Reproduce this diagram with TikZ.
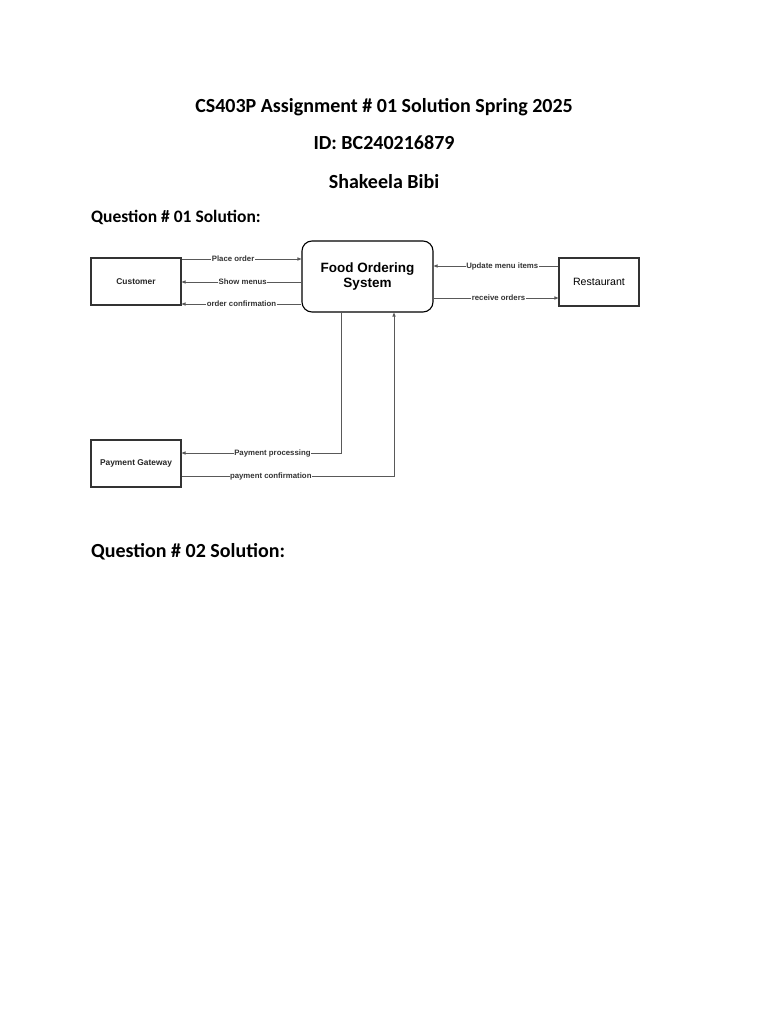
\documentclass[tikz,border=0pt]{standalone}
\usepackage{fontspec}
\setmainfont{Carlito}
\newfontfamily\diag{Liberation Sans}
\usetikzlibrary{arrows.meta}
\begin{document}
\begin{tikzpicture}[x=1pt,y=-1pt,
  title/.style={font=\bfseries\fontsize{20}{24}\selectfont, anchor=base, inner sep=0pt},
  qhead/.style={font=\bfseries\fontsize{17.5}{21}\selectfont, anchor=base west, inner sep=0pt},
  entity/.style={draw=black!80, line width=1.1pt, inner sep=0pt, text=black!85, font=\diag\bfseries\fontsize{8.4}{10}\selectfont},
  proc/.style={draw=black, line width=1.1pt, rounded corners=10pt, inner sep=0pt, align=center,
     font=\diag\bfseries\fontsize{13.5}{15.5}\selectfont},
  flow/.style={draw=black!65, line width=0.7pt, -{Triangle[length=4pt,width=3.2pt]}},
  lbl/.style={fill=white, inner sep=0.5pt, font=\diag\bfseries\fontsize{7.8}{9}\selectfont, text=black!80}
]
\useasboundingbox[fill=white] (0,0) rectangle (768,1024);

\node[title] (t1) at (384,112.5) {CS403P Assignment \# 01 Solution Spring 2025};
\node[title] (t2) at (384,149.5) {ID: BC240216879};
\node[title] (t3) at (384,189) {Shakeela Bibi};
\node[qhead] (q1) at (91,222.7) {Question \# 01 Solution:};
\node[qhead, font=\bfseries\fontsize{20}{24}\selectfont] (q2) at (91,557) {Question \# 02 Solution:};

% boxes
\node[entity, minimum width=90pt, minimum height=47pt] (cust) at (136,281.5) {Customer};
\node[proc, minimum width=131pt, minimum height=71pt] (fos) at (367.5,276.5) {Food Ordering\\System};
\node[entity, minimum width=80pt, minimum height=48pt, font=\diag\fontsize{10.6}{12}\selectfont, text=black] (rest) at (599,282) {Restaurant};
\node[entity, minimum width=90pt, minimum height=47pt] (pg) at (136,463.5) {Payment Gateway};

% customer flows
\draw[flow] (cust.east |- 0,259) -- node[lbl, pos=0.43] {Place order} (fos.west |- 0,259);
\draw[flow] (fos.west |- 0,282) -- node[lbl, pos=0.49] {Show menus} (cust.east |- 0,282);
\draw[flow] (fos.west |- 0,304) -- node[lbl, pos=0.5] {order confirmation} (cust.east |- 0,304);

% restaurant flows
\draw[flow] (rest.west |- 0,266) -- node[lbl, pos=0.45] {Update menu items} (fos.east |- 0,266);
\draw[flow] (fos.east |- 0,298) -- node[lbl, pos=0.52] {receive orders} (rest.west |- 0,298);

% payment flows
\coordinate (pp) at (341,453);
\coordinate (pc) at (394,476);
\draw[flow] (fos.south -| pp) -- (pp) -- node[lbl, pos=0.43] {Payment processing} (pg.east |- pp);
\draw[flow] (pg.east |- pc) -- node[lbl, pos=0.42] {payment confirmation} (pc) -- (fos.south -| pc);
\end{tikzpicture}
\end{document}
